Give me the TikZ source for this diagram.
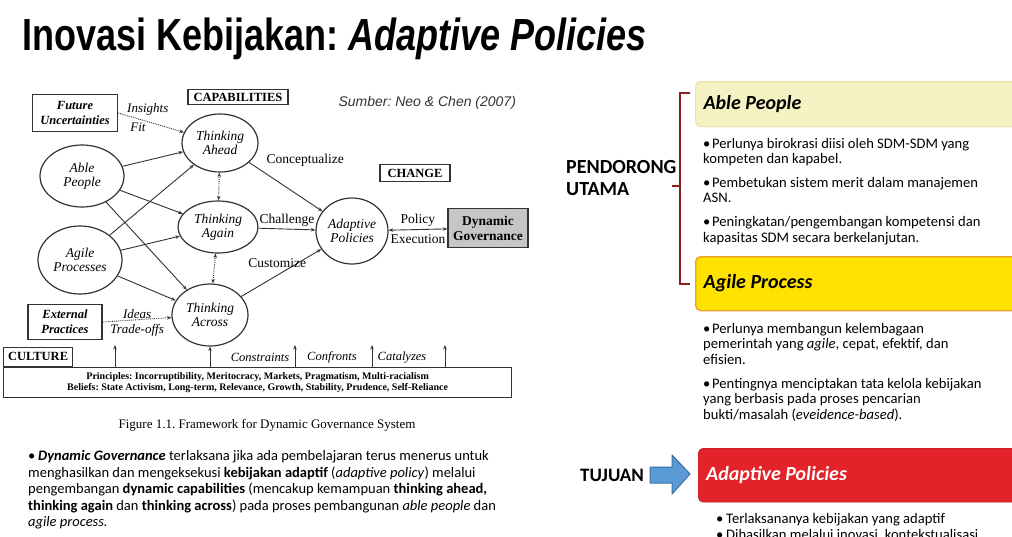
\documentclass[tikz,border=0pt]{standalone}
\usepackage{fontspec}
\setmainfont{Carlito}
\newfontfamily\titlefont[FakeStretch=0.8]{Liberation Sans}
\newfontfamily\figfont{Liberation Serif}
\newfontfamily\srcfont{Liberation Sans}
\usetikzlibrary{positioning,shapes.geometric,arrows.meta}
\frenchspacing

\definecolor{linegray}{HTML}{333333}
\definecolor{bracketred}{HTML}{8B1E1E}
\definecolor{ableyellow}{HTML}{F5F3C4}
\definecolor{ableborder}{HTML}{E8E3A6}
\definecolor{agileyellow}{HTML}{FFE200}
\definecolor{agileborder}{HTML}{E8A02E}
\definecolor{adaptred}{HTML}{E42229}
\definecolor{arrowblue}{HTML}{5B9BD5}
\definecolor{arrowborder}{HTML}{3A6EA5}
\definecolor{govgray}{HTML}{C6C6C6}

\newcommand\bitem[1][9pt]{\par\hangindent=#1\hangafter=1\noindent\makebox[#1][l]{\textbullet}}

\tikzset{
  capnode/.style={draw=linegray,ellipse,line width=1.2pt,inner sep=0pt,align=center,font=\figfont\itshape\fontsize{13.5}{14.5}\selectfont},
  inbox/.style={draw=linegray,line width=1.4pt,inner sep=1pt,align=center,font=\figfont\bfseries\itshape\fontsize{12.5}{15}\selectfont},
  tagbox/.style={draw=linegray,line width=1.2pt,inner sep=1.5pt,font=\figfont\bfseries\fontsize{12.5}{14}\selectfont},
  flow/.style={->,draw=linegray,line width=0.9pt},
  hint/.style={draw=linegray,line width=0.9pt,densely dotted},
  lbl/.style={inner sep=1pt,font=\figfont\fontsize{13.5}{15}\selectfont},
  ilbl/.style={inner sep=1pt,font=\figfont\itshape\fontsize{13}{15}\selectfont},
  headbox/.style={rounded corners=5pt,anchor=north west,minimum width=330pt,text width=314pt,inner xsep=8pt,align=flush left,font=\bfseries\itshape\fontsize{20}{24}\selectfont},
  itemlist/.style={anchor=north west,text width=300pt,align=flush left,inner sep=0pt,font=\fontsize{14.6}{15.3}\selectfont},
}

\begin{document}
\begin{tikzpicture}[x=1pt,y=-1pt,>={Stealth[length=4.5pt,width=3.5pt]}]
\clip (0,0) rectangle (1012,536);
\fill[white] (0,0) rectangle (1012,536);

% title
\node[anchor=base west,inner sep=0pt,font=\titlefont\bfseries\fontsize{45}{54}\selectfont] (title) at (22,50) {Inovasi Kebijakan: \textit{Adaptive Policies}};

% framework figure
\node[tagbox,minimum width=100pt,minimum height=15pt] (capab) at (238,97) {CAPABILITIES};
\node[anchor=west,text=linegray,font=\srcfont\itshape\fontsize{14}{16}\selectfont] (sumber) at (335,103) {Sumber: Neo \& Chen (2007)};
\node[tagbox,minimum width=70pt,minimum height=17pt] (change) at (415,173) {CHANGE};

\node[inbox,minimum width=85pt,minimum height=37pt] (futunc) at (75,113) {Future\\Uncertainties};
\node[inbox,minimum width=74pt,minimum height=35pt] (extprac) at (65,322) {External\\Practices};

\node[capnode,minimum width=76pt,minimum height=58pt] (ahead) at (220,143) {Thinking\\Ahead};
\node[capnode,minimum width=80pt,minimum height=52pt] (again) at (218,227) {Thinking\\Again};
\node[capnode,minimum width=76pt,minimum height=62pt] (across) at (210,315) {Thinking\\Across};
\node[capnode,minimum width=84pt,minimum height=62pt] (able) at (82,176) {Able\\People};
\node[capnode,minimum width=84pt,minimum height=68pt] (agile) at (80,260) {Agile\\Processes};
\node[capnode,minimum width=72pt,minimum height=66pt] (adapt) at (352,231) {Adaptive\\Policies};
\node[draw=linegray,fill=govgray,line width=1.4pt,minimum width=80pt,minimum height=39pt,inner sep=1pt,align=center,font=\figfont\bfseries\fontsize{13.5}{15}\selectfont] (dyngov) at (488,228) {Dynamic\\Governance};

\foreach \src in {able,agile}
  \foreach \dst in {ahead,again,across}
    \draw[flow] (\src) -- (\dst);

\draw[hint,->] (futunc.east) -- node[ilbl,pos=0.45,above=5pt] {Insights} node[ilbl,pos=0.3,below=3pt] {Fit} (ahead);
\draw[hint,->] (extprac.east) -- node[ilbl,above] {Ideas} node[ilbl,below=3pt] {Trade-offs} (across);
\draw[hint,<->] (ahead) -- (again);
\draw[hint,<->] (again) -- (across);

\draw[flow] (ahead) -- node[lbl,pos=0.22,anchor=south west,yshift=5pt] {Conceptualize} (adapt);
\draw[flow] (again) -- node[lbl,above=1pt] {Challenge} (adapt);
\draw[flow] (across) -- node[lbl,pos=0.45,above=6pt] {Customize} (adapt);
\draw[flow,<->] (adapt) -- node[lbl,above=2pt] {Policy} node[lbl,below=4pt] {Execution} (dyngov);

% culture
\node[draw=linegray,line width=1.2pt,anchor=north west,minimum width=508pt,minimum height=30pt,inner sep=0pt,align=center,font=\figfont\bfseries\fontsize{10}{11}\selectfont] (cultbox) at (3,367) {Principles: Incorruptibility, Meritocracy, Markets, Pragmatism, Multi-racialism\\Beliefs: State Activism, Long-term, Relevance, Growth, Stability, Prudence, Self-Reliance};
\node[tagbox,fill=white,anchor=south west,minimum width=69pt,minimum height=19pt] (culttab) at (3,367) {CULTURE};

\foreach \x/\n in {115/a,295/b,372/c,445/d} {
  \coordinate (up\n) at (\x,345);
  \draw[flow] (up\n |- cultbox.north) -- (up\n);
}
\draw[flow] (across.south |- cultbox.north) -- (across);
\node[ilbl,font=\figfont\itshape\fontsize{12.5}{14}\selectfont] (constr) at (260,357) {Constraints};
\node[ilbl,font=\figfont\itshape\fontsize{12.5}{14}\selectfont] (confr) at (332,357) {Confronts};
\node[ilbl,font=\figfont\itshape\fontsize{12.5}{14}\selectfont] (catal) at (402,358) {Catalyzes};

\node[font=\figfont\fontsize{13}{15}\selectfont] (caption) at (267,425) {Figure 1.1. Framework for Dynamic Governance System};

% explanation
\node[anchor=north west,text width=520pt,align=flush left,inner sep=0pt,font=\fontsize{14.5}{16.5}\selectfont] (explain) at (28,444) {%
\bitem[10pt]\textbf{\textit{Dynamic Governance}} terlaksana jika ada pembelajaran terus menerus untuk\\
menghasilkan dan mengeksekusi \textbf{kebijakan adaptif} (\textit{adaptive policy}) melalui\\
pengembangan \textbf{dynamic capabilities} (mencakup kemampuan \textbf{thinking ahead,}\\
\textbf{thinking again} dan \textbf{thinking across}) pada proses pembangunan \textit{able people} dan\\
\textit{agile process.}};

% right panel
\node[anchor=west,align=flush left,inner sep=0pt,font=\bfseries\fontsize{20}{22}\selectfont] (pendorong) at (566,178) {PENDORONG\\UTAMA};
\draw[bracketred,line width=2.2pt] (690,93) -- (680,93) -- (680,284) -- (690,284);
\draw[bracketred,line width=2.2pt] (680,186) -- (672,186);

\node[headbox,fill=ableyellow,draw=ableborder,line width=1pt,minimum height=45pt] (ablehead) at (695,81) {Able People};
\node[itemlist] (ablelist) at (703,133) {%
\bitem Perlunya birokrasi diisi oleh SDM-SDM yang\\kompeten dan kapabel.\par\vspace{8.5pt}
\bitem Pembetukan sistem merit dalam manajemen\\ASN.\par\vspace{8.5pt}
\bitem Peningkatan/pengembangan kompetensi dan\\kapasitas SDM secara berkelanjutan.};

\node[headbox,fill=agileyellow,draw=agileborder,line width=1.3pt,minimum height=54pt] (agilehead) at (695,256) {Agile Process};
\node[itemlist] (agilelist) at (703,318) {%
\bitem Perlunya membangun kelembagaan\\pemerintah yang \textit{agile}, cepat, efektif, dan\\efisien.\par\vspace{9pt}
\bitem Pentingnya menciptakan tata kelola kebijakan\\yang berbasis pada proses pencarian\\bukti/masalah (\textit{eveidence-based}).};

\node[anchor=west,inner sep=0pt,font=\bfseries\fontsize{19}{22}\selectfont] (tujuan) at (580,475) {TUJUAN};
\draw[draw=arrowborder,fill=arrowblue,line width=1pt,line join=round] (650,467) -- (672,467) -- (672,455) -- (690,474) -- (672,494) -- (672,483) -- (650,483) -- cycle;

\node[headbox,fill=adaptred,draw=adaptred!75!black,text=white,minimum height=54pt] (adapthead) at (698,448) {Adaptive Policies};
\node[itemlist,font=\fontsize{14.6}{16}\selectfont] (adaptlist) at (716,507) {%
\bitem[10pt]Terlaksananya kebijakan yang adaptif\par
\bitem[10pt]Dihasilkan melalui inovasi, kontekstualisasi};

\end{tikzpicture}
\end{document}
